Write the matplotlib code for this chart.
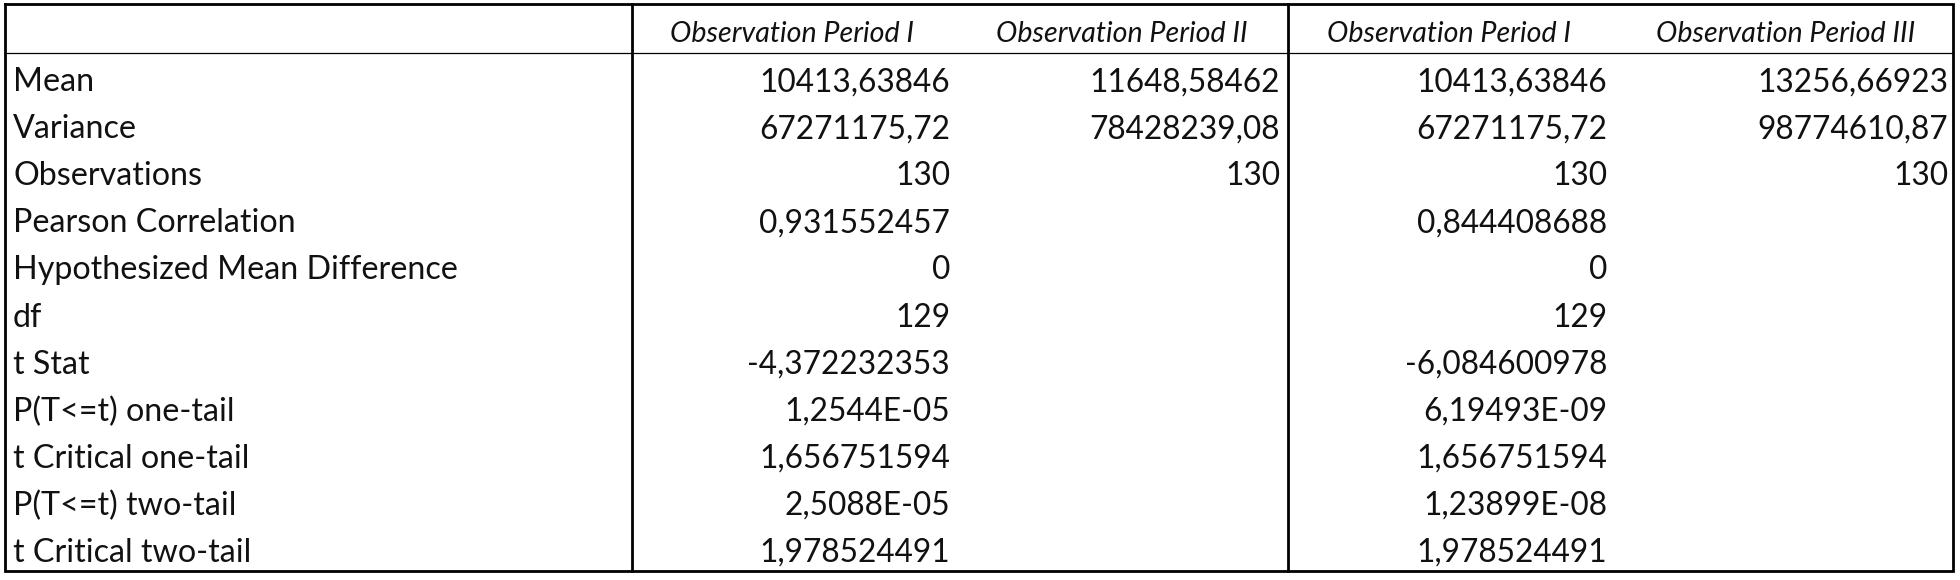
import matplotlib.pyplot as plt

# Ergebnisse t-Test (gepaarte Stichproben), so wie aus Excel kopiert
row_labels = ["Mean", "Variance", "Observations", "Pearson Correlation",
              "Hypothesized Mean Difference", "df", "t Stat", "P(T<=t) one-tail",
              "t Critical one-tail", "P(T<=t) two-tail", "t Critical two-tail"]
headers = ["Observation Period I", "Observation Period II",
           "Observation Period I", "Observation Period III"]

period1_a = ["10413,63846", "67271175,72", "130", "0,931552457", "0", "129",
             "-4,372232353", "1,2544E-05", "1,656751594", "2,5088E-05", "1,978524491"]
period2 = ["11648,58462", "78428239,08", "130", "", "", "", "", "", "", "", ""]
period1_b = ["10413,63846", "67271175,72", "130", "0,844408688", "0", "129",
             "-6,084600978", "6,19493E-09", "1,656751594", "1,23899E-08", "1,978524491"]
period3 = ["13256,66923", "98774610,87", "130", "", "", "", "", "", "", "", ""]

columns = [period1_a, period2, period1_b, period3]

# Layout in Pixel
W, H = 1960, 580
left, right, top, bottom = 5, 1953, 4, 571
header_h = 49
row_h = (bottom - top - header_h) / len(row_labels)
col_right = [950, 1280, 1607, 1948]   # rechter Rand der Zahlen
col_center = [792, 1122, 1449, 1786]  # Mitte der Überschriften
label_x = 13
base_pad = 9

plt.rcParams['font.family'] = ['Lato', 'DejaVu Sans']
fs_lab = 23.2
fs_num = 22.8
fs_head = 20.6
txt_col = "#111111"

fig = plt.figure(figsize=(W / 100, H / 100), dpi=100)
ax = fig.add_axes([0, 0, 1, 1])
ax.set_xlim(0, W)
ax.set_ylim(H, 0)
ax.axis("off")

# Überschriften
for x, h in zip(col_center, headers):
    ax.text(x, top + header_h - base_pad - 2, h, ha="center", va="baseline",
            fontsize=fs_head, style="italic", color=txt_col)

# Zeilen
for i, lab in enumerate(row_labels):
    y = top + header_h + (i + 1) * row_h - base_pad
    ax.text(label_x, y, lab, ha="left", va="baseline", fontsize=fs_lab, color=txt_col)
    for x, col in zip(col_right, columns):
        if col[i]:
            ax.text(x, y, col[i], ha="right", va="baseline", fontsize=fs_num, color=txt_col)

# Rahmen
lw_thick = 2.0
ax.plot([left, right, right, left, left], [top, top, bottom, bottom, top],
        color="black", lw=lw_thick, solid_joinstyle="miter")
for vx in [632, 1288]:
    ax.plot([vx, vx], [top, bottom], color="black", lw=lw_thick)
ax.plot([left, right], [top + header_h, top + header_h], color="black", lw=0.9)

fig.savefig("out.png", dpi=100)
